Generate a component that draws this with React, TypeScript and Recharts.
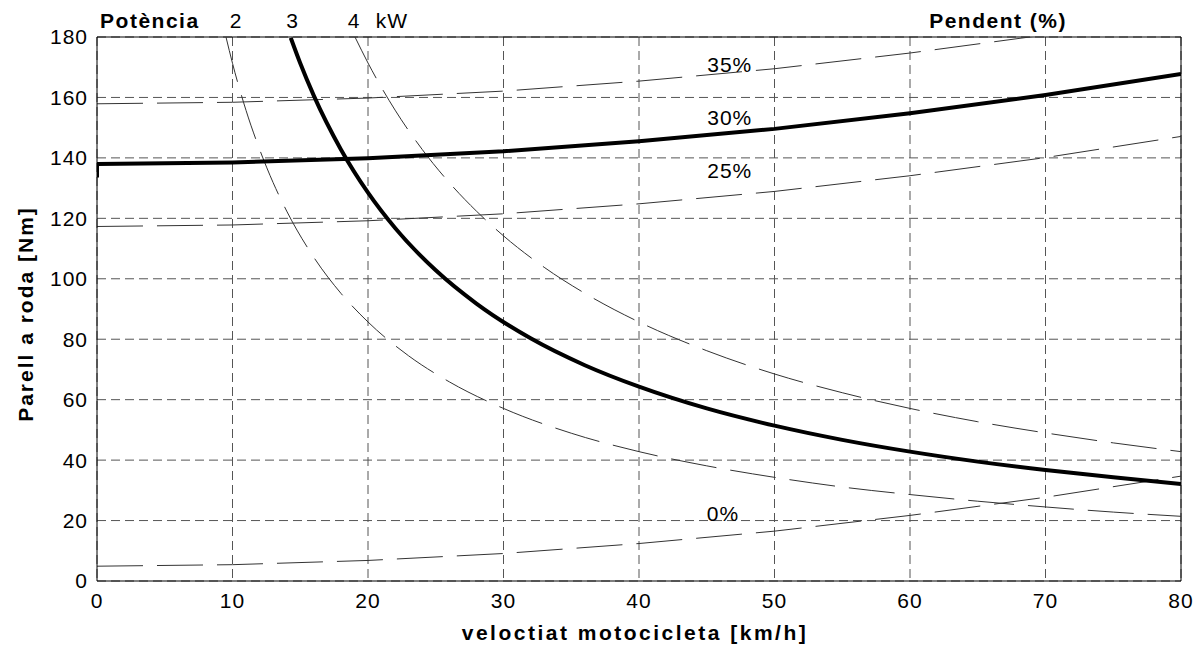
import React from 'react';
import {
  LineChart,
  Line,
  XAxis,
  YAxis,
  CartesianGrid,
  ReferenceDot,
  ReferenceLine
} from 'recharts';

// axis ticks
const speedTicks = [0, 10, 20, 30, 40, 50, 60, 70, 80];
const torqueTicks = [0, 20, 40, 60, 80, 100, 120, 140, 160, 180];

// constant power curves: wheel torque [Nm] vs speed [km/h]
const power2Speed = [9.52, 10, 11, 12, 13, 14, 16, 18, 20, 23, 26, 30, 35, 40, 45, 50, 55, 60, 65, 70, 75, 80];
const power2Torque = [180, 171.3, 155.7, 142.8, 131.8, 122.4, 107.1, 95.2, 85.7, 74.5, 65.9, 57.1, 48.9, 42.8, 38.1, 34.3, 31.1, 28.6, 26.4, 24.5, 22.8, 21.4];

const power3Speed = [14.3, 15, 16, 18, 20, 22, 25, 28, 32, 36, 40, 45, 50, 55, 60, 65, 70, 75, 80];
const power3Torque = [179.7, 171.3, 160.6, 142.8, 128.5, 116.8, 102.8, 91.8, 80.3, 71.4, 64.3, 57.1, 51.4, 46.7, 42.8, 39.5, 36.7, 34.3, 32.1];

const power4Speed = [19.04, 20, 22, 24, 26, 28, 30, 33, 36, 40, 45, 50, 55, 60, 65, 70, 75, 80];
const power4Torque = [180, 171.4, 155.8, 142.8, 131.8, 122.4, 114.2, 103.8, 95.2, 85.7, 76.2, 68.5, 62.3, 57.1, 52.7, 49.0, 45.7, 42.8];

// road load torque for each slope
const slopeSpeed = [0, 10, 20, 30, 40, 50, 60, 70, 80];
const grade0 = [4.9, 5.4, 6.8, 9.1, 12.4, 16.5, 21.7, 27.7, 34.7];
const grade25 = [117.3, 117.8, 119.2, 121.5, 124.8, 128.9, 134.1, 140.1, 147.1];
const grade35 = [157.9, 158.4, 159.8, 162.1, 165.4, 169.5, 174.7, 180.7, 187.7];
const grade30Speed = [0, 0, 10, 20, 30, 40, 50, 60, 70, 80];
const grade30 = [133.5, 138.0, 138.5, 139.9, 142.2, 145.5, 149.6, 154.8, 160.8, 167.8];

// in-plot slope labels
const slopeLabels = ['35%', '30%', '25%', '0%'];
const slopeLabelSpeed = [46.7, 46.7, 46.7, 46.2];
const slopeLabelTorque = [171, 153.4, 135.9, 22.4];

// header above the plot
const headerLabels = ['Potència', '2', '3', '4', 'kW', 'Pendent (%)'];
const headerSpeed = [3.9, 10.26, 14.44, 18.97, 21.77, 66.5];
const headerBold = [true, false, false, false, false, true];

const toPoints = (speed: number[], torque: number[]) =>
  speed.map((v, i) => ({ v, t: torque[i] }));

const FONT = '"Liberation Sans", Arial, sans-serif';

const thinDashed = {
  type: 'monotone' as const,
  dataKey: 't',
  stroke: '#333',
  strokeWidth: 1,
  strokeDasharray: '46 14',
  dot: false,
  activeDot: false,
  isAnimationActive: false
};

const XTitle = ({ viewBox }: any) => (
  <text
    x={viewBox.x + viewBox.width / 2 - 4}
    y={640}
    textAnchor="middle"
    fontFamily={FONT}
    fontSize={21}
    fontWeight="bold"
    letterSpacing={2.5}
    fill="#000"
  >
    veloctiat motocicleta [km/h]
  </text>
);

const YTitle = ({ viewBox }: any) => {
  const cx = 25;
  const cy = viewBox.y + viewBox.height / 2 + 5;
  return (
    <text
      x={cx}
      y={cy}
      transform={`rotate(-90, ${cx}, ${cy})`}
      textAnchor="middle"
      dominantBaseline="central"
      fontFamily={FONT}
      fontSize={21}
      fontWeight="bold"
      letterSpacing={2}
      fill="#000"
    >
      Parell a roda [Nm]
    </text>
  );
};

export default function App() {
  return (
    <div style={{ position: 'absolute', left: 0, top: 0, background: '#fff', fontFamily: FONT }}>
      <LineChart width={1201} height={648} margin={{ top: 37, right: 20, bottom: 0, left: 0 }}>
        <CartesianGrid stroke="#555" strokeDasharray="9 5" />
        <XAxis
          dataKey="v"
          type="number"
          domain={[0, 80]}
          ticks={speedTicks}
          allowDataOverflow
          height={67}
          tickSize={0}
          tickMargin={12}
          axisLine={{ stroke: '#000' }}
          tick={{ fontSize: 21, fill: '#000', fontFamily: FONT, letterSpacing: 1 }}
          label={{ content: XTitle }}
        />
        <YAxis
          type="number"
          domain={[0, 180]}
          ticks={torqueTicks}
          allowDataOverflow
          width={97}
          tickSize={0}
          tickMargin={9}
          axisLine={{ stroke: '#000' }}
          tick={{ fontSize: 21, fill: '#000', fontFamily: FONT, letterSpacing: 1 }}
          label={{ content: YTitle }}
        />
        <ReferenceLine y={180} stroke="#000" strokeWidth={1} />
        <ReferenceLine x={80} stroke="#000" strokeWidth={1} />

        <Line {...thinDashed} data={toPoints(power2Speed, power2Torque)} />
        <Line {...thinDashed} data={toPoints(power4Speed, power4Torque)} />
        <Line {...thinDashed} type="linear" data={toPoints(slopeSpeed, grade0)} />
        <Line {...thinDashed} type="linear" data={toPoints(slopeSpeed, grade25)} />
        <Line {...thinDashed} type="linear" data={toPoints(slopeSpeed, grade35)} />

        <Line
          data={toPoints(power3Speed, power3Torque)}
          dataKey="t"
          type="monotone"
          stroke="#000"
          strokeWidth={4}
          dot={false}
          activeDot={false}
          isAnimationActive={false}
        />
        <Line
          data={toPoints(grade30Speed, grade30)}
          dataKey="t"
          type="linear"
          stroke="#000"
          strokeWidth={4}
          dot={false}
          activeDot={false}
          isAnimationActive={false}
        />

        {slopeLabels.map((s, i) => (
          <ReferenceDot
            key={s}
            x={slopeLabelSpeed[i]}
            y={slopeLabelTorque[i]}
            ifOverflow="visible"
            shape={(p: any) => (
              <text
                x={p.cx}
                y={p.cy}
                textAnchor="middle"
                dominantBaseline="central"
                fontFamily={FONT}
                fontSize={21}
                letterSpacing={1}
                fill="#000"
              >
                {s}
              </text>
            )}
          />
        ))}

        {headerLabels.map((s, i) => (
          <ReferenceDot
            key={s}
            x={headerSpeed[i]}
            y={180}
            ifOverflow="visible"
            shape={(p: any) => (
              <text
                x={p.cx}
                y={p.cy - 9}
                textAnchor="middle"
                fontFamily={FONT}
                fontSize={21}
                fontWeight={headerBold[i] ? 'bold' : 'normal'}
                letterSpacing={headerBold[i] ? 1.5 : 1}
                fill="#000"
              >
                {s}
              </text>
            )}
          />
        ))}
      </LineChart>
    </div>
  );
}
